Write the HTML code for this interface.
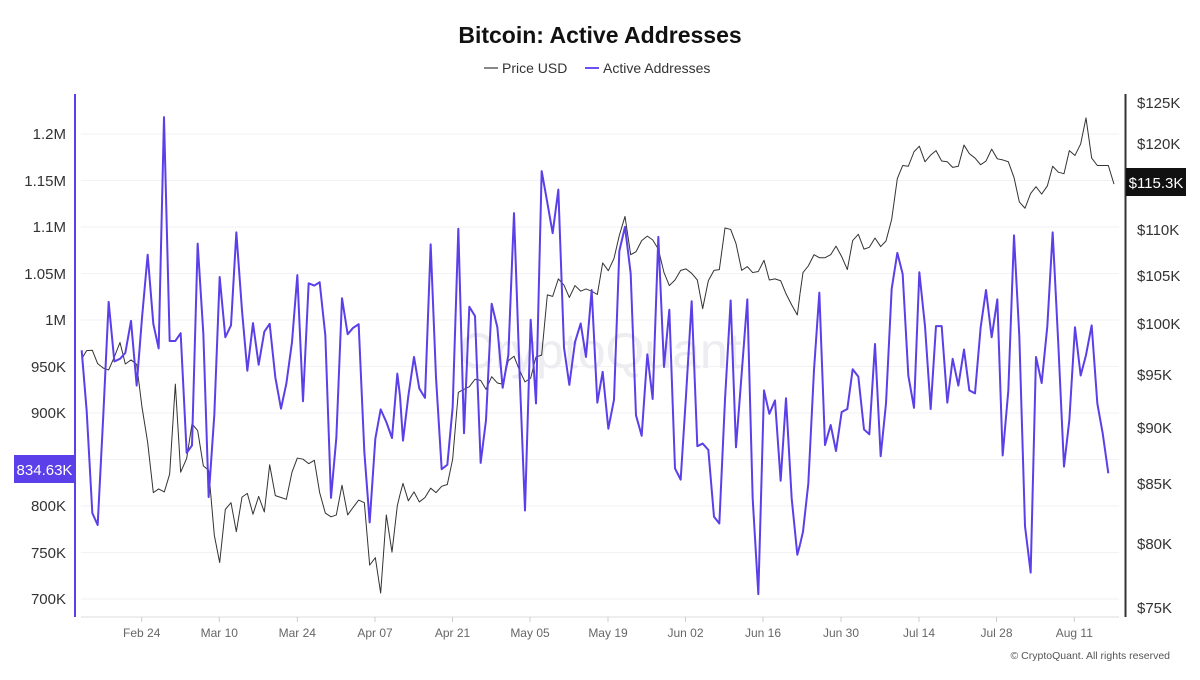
<!DOCTYPE html>
<html><head><meta charset="utf-8"><style>
body{margin:0;background:#fff;width:1200px;height:675px;overflow:hidden;font-family:"Liberation Sans",sans-serif;}
</style></head><body>
<svg width="1200" height="675" xmlns="http://www.w3.org/2000/svg" font-family="Liberation Sans, sans-serif">
<rect width="1200" height="675" fill="#fff"/>
<text x="600" y="43" text-anchor="middle" font-size="23" font-weight="bold" fill="#111">Bitcoin: Active Addresses</text>
<line x1="484" y1="68" x2="498" y2="68" stroke="#888" stroke-width="2"/>
<text x="502" y="73" font-size="14" fill="#333">Price USD</text>
<line x1="585" y1="68" x2="599" y2="68" stroke="#6a50f0" stroke-width="2"/>
<text x="603" y="73" font-size="14" fill="#333">Active Addresses</text>
<g stroke="#f2f2f4" stroke-width="1">
<line x1="81" x2="1119" y1="134" y2="134"/><line x1="81" x2="1119" y1="180.5" y2="180.5"/><line x1="81" x2="1119" y1="227" y2="227"/><line x1="81" x2="1119" y1="273.5" y2="273.5"/><line x1="81" x2="1119" y1="320" y2="320"/><line x1="81" x2="1119" y1="366.5" y2="366.5"/><line x1="81" x2="1119" y1="413" y2="413"/><line x1="81" x2="1119" y1="459.5" y2="459.5"/><line x1="81" x2="1119" y1="506" y2="506"/><line x1="81" x2="1119" y1="552.5" y2="552.5"/><line x1="81" x2="1119" y1="599" y2="599"/>
</g>
<text x="600" y="368" text-anchor="middle" font-size="50" fill="#ececf1">CryptoQuant</text>
<g font-size="15" fill="#333" text-anchor="end">
<text x="66" y="139">1.2M</text><text x="66" y="186">1.15M</text><text x="66" y="232">1.1M</text><text x="66" y="279">1.05M</text><text x="66" y="325">1M</text><text x="66" y="372">950K</text><text x="66" y="418">900K</text><text x="66" y="465">850K</text><text x="66" y="511">800K</text><text x="66" y="558">750K</text><text x="66" y="604">700K</text>
</g>
<g font-size="15" fill="#333">
<text x="1137" y="108">$125K</text><text x="1137" y="149">$120K</text><text x="1137" y="235">$110K</text><text x="1137" y="281">$105K</text><text x="1137" y="329">$100K</text><text x="1137" y="380">$95K</text><text x="1137" y="433">$90K</text><text x="1137" y="489">$85K</text><text x="1137" y="549">$80K</text><text x="1137" y="613">$75K</text>
</g>
<line x1="75" y1="94" x2="75" y2="617" stroke="#5b3fe8" stroke-width="2"/>
<line x1="1125.5" y1="94" x2="1125.5" y2="617" stroke="#333" stroke-width="2"/>
<line x1="81" y1="617" x2="1119" y2="617" stroke="#ddd" stroke-width="1"/>
<g stroke="#ccc"><line x1="141.7" x2="141.7" y1="617" y2="622"/><line x1="219.3" x2="219.3" y1="617" y2="622"/><line x1="297.3" x2="297.3" y1="617" y2="622"/><line x1="375" x2="375" y1="617" y2="622"/><line x1="452.5" x2="452.5" y1="617" y2="622"/><line x1="530" x2="530" y1="617" y2="622"/><line x1="608" x2="608" y1="617" y2="622"/><line x1="685.5" x2="685.5" y1="617" y2="622"/><line x1="763" x2="763" y1="617" y2="622"/><line x1="841" x2="841" y1="617" y2="622"/><line x1="919" x2="919" y1="617" y2="622"/><line x1="996.5" x2="996.5" y1="617" y2="622"/><line x1="1074.3" x2="1074.3" y1="617" y2="622"/></g>
<g font-size="12" fill="#666" text-anchor="middle">
<text x="141.7" y="637">Feb 24</text><text x="219.3" y="637">Mar 10</text><text x="297.3" y="637">Mar 24</text><text x="375" y="637">Apr 07</text><text x="452.5" y="637">Apr 21</text><text x="530" y="637">May 05</text><text x="608" y="637">May 19</text><text x="685.5" y="637">Jun 02</text><text x="763" y="637">Jun 16</text><text x="841" y="637">Jun 30</text><text x="919" y="637">Jul 14</text><text x="996.5" y="637">Jul 28</text><text x="1074.3" y="637">Aug 11</text>
</g>
<text x="1170" y="659" text-anchor="end" font-size="10.5" fill="#555">© CryptoQuant. All rights reserved</text>
<g fill="none" stroke-linejoin="round">
<g transform="translate(0,80) scale(0.33333,0.37175)">
<polyline vector-effect="non-scaling-stroke" stroke="#333" stroke-width="1" points="245,750 260,728 277,727 293,763 310,775 326,780 343,745 360,706 376,764 393,753 410,765 426,880 443,975 460,1110 476,1100 493,1108 509,1060 526,818 542,1055 560,1018 576,925 593,943 610,1038 626,1050 643,1225 659,1298 676,1155 693,1137 709,1215 726,1122 742,1112 759,1168 776,1120 793,1162 809,1035 826,1118 843,1123 859,1128 876,1055 892,1017 909,1020 926,1032 943,1023 959,1110 976,1165 993,1175 1009,1170 1026,1090 1043,1170 1059,1150 1076,1130 1093,1137 1109,1305 1126,1285 1142,1380 1159,1170 1176,1270 1192,1145 1200,1115"/>
<polyline vector-effect="non-scaling-stroke" stroke="#5b3fe8" stroke-width="2" points="245,727 260,890 277,1165 293,1197 310,900 326,597 343,757 360,750 376,734 393,648 410,822 426,640 443,470 460,656 476,722 492,100 509,702 526,702 542,681 560,1003 576,983 593,440 610,682 626,1122 643,900 659,530 676,692 693,660 709,410 726,620 742,782 759,654 776,766 793,677 809,656 826,800 843,884 859,817 876,705 892,525 909,864 926,547 943,553 959,544 976,687 993,1124 1009,963 1026,587 1043,684 1059,667 1076,657 1093,1000 1109,1190 1126,965 1142,886 1159,920 1176,963 1192,790 1200,850"/>
</g>
<g transform="translate(400,80) scale(0.33333,0.37175)">
<polyline vector-effect="non-scaling-stroke" stroke="#333" stroke-width="1" points="0,1115 9,1085 25,1132 42,1108 58,1135 75,1123 92,1098 108,1110 125,1093 142,1088 158,1020 175,840 192,832 208,825 225,805 242,808 258,832 275,798 292,815 308,818 325,755 342,743 358,780 375,812 392,802 408,745 425,740 442,578 458,582 475,535 492,552 508,585 525,553 542,568 558,562 575,568 592,577 608,492 625,513 642,480 658,418 675,367 692,470 708,462 725,432 742,420 758,430 775,455 792,518 808,553 825,538 842,512 858,508 875,520 892,538 908,615 925,540 942,512 958,510 975,398 992,402 1008,440 1025,512 1042,502 1058,518 1075,515 1092,485 1108,538 1125,535 1142,540 1158,575 1175,605 1192,632 1200,575"/>
<polyline vector-effect="non-scaling-stroke" stroke="#5b3fe8" stroke-width="2" points="0,850 9,970 25,850 42,745 58,830 75,855 92,442 108,800 125,1047 142,1035 158,880 175,400 192,950 208,610 225,635 242,1030 258,915 275,602 292,665 308,828 325,740 342,358 358,770 375,1158 392,645 408,870 425,245 442,330 458,412 475,295 492,720 508,820 525,705 542,655 558,745 575,565 592,868 608,785 625,938 642,860 658,460 675,395 692,520 708,902 725,957 742,738 758,858 775,422 792,772 808,618 825,1045 842,1075 858,850 875,595 892,985 908,978 925,995 942,1175 958,1193 975,860 992,593 1008,988 1025,790 1042,590 1058,1125 1075,1383 1092,835 1108,898 1125,862 1142,1078 1158,856 1175,1125 1192,1277 1200,1250"/>
</g>
<g transform="translate(800,80) scale(0.33333,0.37175)">
<polyline vector-effect="non-scaling-stroke" stroke="#333" stroke-width="1" points="0,575 9,518 25,500 42,470 58,478 75,478 92,470 108,447 125,475 142,510 158,432 175,415 192,455 208,450 225,425 242,448 258,433 275,375 292,265 308,230 325,232 342,193 358,178 375,220 392,202 408,190 425,218 442,220 458,235 475,232 492,175 508,198 525,210 542,228 558,218 575,186 592,212 608,215 625,220 642,262 658,328 675,345 692,305 708,287 725,307 742,285 758,232 775,248 792,252 808,190 825,203 842,172 858,102 875,210 892,230 908,230 925,230 942,280"/>
<polyline vector-effect="non-scaling-stroke" stroke="#5b3fe8" stroke-width="2" points="0,1250 9,1215 25,1085 42,780 58,572 75,982 92,928 108,998 125,893 142,885 158,778 175,798 192,940 208,953 225,710 242,1012 258,870 275,562 292,465 308,522 325,795 342,882 358,517 375,662 392,885 408,662 425,662 442,868 458,750 475,822 492,725 508,835 525,843 542,665 558,565 575,692 592,590 608,1010 625,835 642,418 658,690 675,1200 692,1325 708,745 725,815 742,662 758,410 775,712 792,1040 808,915 825,665 842,795 858,740 875,660 892,870 908,950 925,1058"/>
</g>
</g>
<rect x="14" y="455" width="61" height="28" fill="#5b3fe8"/>
<text x="44.5" y="475" text-anchor="middle" font-size="15" fill="#fff">834.63K</text>
<rect x="1126" y="168" width="60" height="28" fill="#111"/>
<text x="1156" y="188" text-anchor="middle" font-size="15" fill="#fff">$115.3K</text>
</svg>
</body></html>
